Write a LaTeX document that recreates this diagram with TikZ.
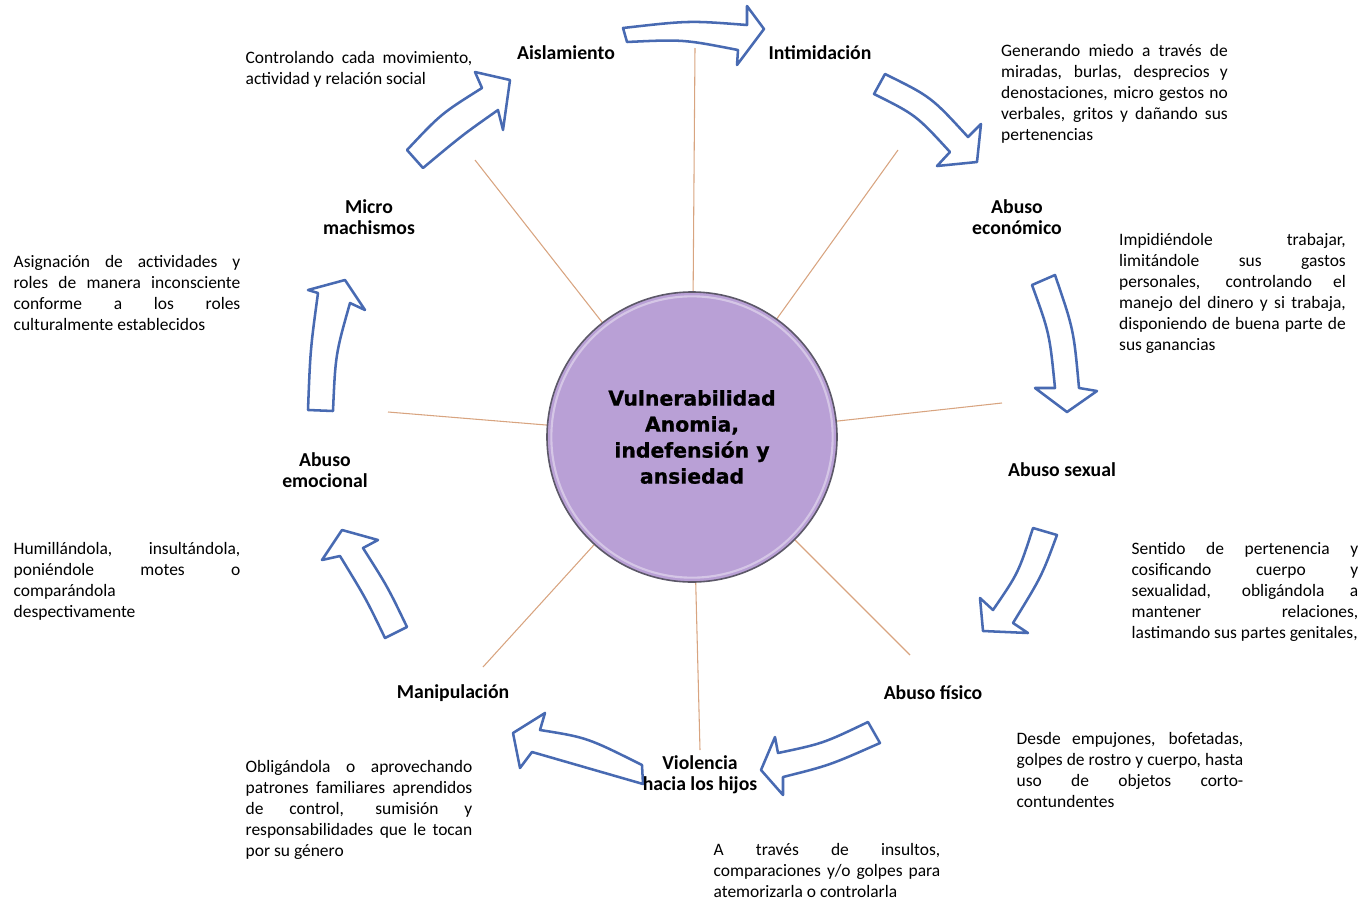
\documentclass[tikz,border=0pt]{standalone}
\usepackage{fontspec}
\setmainfont{Carlito}
\newfontfamily\corefont{DejaVu Sans}[BoldFeatures={FakeBold=0.8}]
\usetikzlibrary{calc}
\definecolor{arrowblue}{RGB}{72,106,178}
\definecolor{spokecol}{RGB}{216,164,128}
\definecolor{corefill}{RGB}{185,160,214}
\definecolor{corerim}{RGB}{92,88,104}
\tikzstyle{stage} = [font={\fontsize{14.8}{15.75}\selectfont\bfseries}, align=center, inner sep=0pt]
\tikzstyle{note} = [font={\fontsize{13.1}{15.75}\selectfont\hyphenpenalty=10000\tolerance=10000}, text width=170pt, align=justify, inner sep=0pt]
\tikzstyle{spoke} = [draw=spokecol, line width=0.8pt]
\tikzstyle{ringarrow} = [draw=arrowblue, fill=white, line width=1.9pt, line join=round]
\tikzstyle{core} = [circle, draw=corerim, line width=1.2pt, fill=corefill, minimum size=217.5pt, inner sep=0pt, align=center, font={\corefont\bfseries\fontsize{15.3}{19.5}\selectfont}]
\tikzstyle{bevel} = [draw=corefill!60!white, line width=1.6pt]
\newcommand{\cyclearrow}[9]{%
  \draw[ringarrow] (#1) .. controls ($(#2)!-1/3!($(#1)!0.5!(#3)$)$) .. (#3) -- (#4) -- (#5) -- (#6)
    -- (#7) .. controls ($(#8)!-1/3!($(#7)!0.5!(#9)$)$) .. (#9) -- cycle;}

\begin{document}
\begin{tikzpicture}[x=0.75pt, y=-0.75pt]
\useasboundingbox (0,0) rectangle (1361,900);

\coordinate (mid) at (692,437);
\coordinate (s1) at (695,48);
\coordinate (s2) at (898,150);
\coordinate (s3) at (1002,403);
\coordinate (s4) at (910,655);
\coordinate (s5) at (700,750);
\coordinate (s6) at (483,667);
\coordinate (s7) at (388,412);
\coordinate (s8) at (475,160);
\foreach \s in {s1,s2,s3,s4,s5,s6,s7,s8}
  \draw[spoke] (mid) -- (\s);

\node[core] (core) at (mid) {};
\draw[bevel] (core.center) circle[radius=105.5pt];
\node[core, fill=none, draw=none] (coretext) at (mid) {Vulnerabilidad\\Anomia,\\indefensión y\\ansiedad};

\cyclearrow{623,28}{688,22}{747,25}{747,6}{764,29}{737,65}{738,50}{683,41}{627,42}
\cyclearrow{885,74}{930,99}{968,137}{981,124}{977,162}{937,166}{950,152}{915,117}{874,94}
\cyclearrow{1055,275}{1072,330}{1079,388}{1097,391}{1067,412}{1035,388}{1055,388}{1048,334}{1032,285}
\cyclearrow{1057,535}{1040,577}{1013,623}{1028,633}{983,631}{980,598}{993,610}{1017,572}{1033,528}
\cyclearrow{880,743}{830,764}{783,777}{783,795}{761,770}{775,737}{778,753}{823,742}{868,722}
\cyclearrow{643,784}{588,768}{532,752}{520,768}{513,733}{545,713}{540,730}{588,740}{642,765}
\cyclearrow{407,627}{387,587}{363,548}{378,540}{342,530}{322,560}{340,556}{365,598}{385,638}
\cyclearrow{333,411}{337,355}{350,303}{365,310}{345,280}{308,290}{318,293}{311,350}{308,410}
\cyclearrow{423,168}{462,136}{498,110}{503,130}{510,80}{475,72}{482,88}{442,115}{407,150}

\node[stage] (aislamiento) at (566,53) {Aislamiento};
\node[stage] (intimidacion) at (820,53) {Intimidación};
\node[stage] (economico) at (1017,217.5) {Abuso\\económico};
\node[stage] (sexual) at (1062,470) {Abuso sexual};
\node[stage] (fisico) at (933,693) {Abuso físico};
\node[stage] (hijos) at (700,774.5) {Violencia\\hacia los hijos};
\node[stage] (manipulacion) at (453,693) {Manipulación};
\node[stage] (emocional) at (325,470.5) {Abuso\\emocional};
\node[stage] (machismos) at (369,217.5) {Micro\\machismos};

\node[note] (aislamientonote) at (359,69.5) {Controlando cada movimiento,\linebreak actividad y relación social};
\node[note] (intimidacionnote) at (1114.5,94) {Generando miedo a través de\linebreak miradas, burlas, desprecios y\linebreak denostaciones, micro gestos no\linebreak verbales, gritos y dañando sus\linebreak pertenencias};
\node[note] (economiconote) at (1232.5,293.5) {Impidiéndole trabajar,\linebreak limitándole sus gastos\linebreak personales, controlando el\linebreak manejo del dinero y si trabaja,\linebreak disponiendo de buena parte de\linebreak sus ganancias};
\node[note] (sexualnote) at (1245,592) {Sentido de pertenencia y\linebreak cosificando cuerpo y\linebreak sexualidad, obligándola a\linebreak mantener relaciones,\linebreak lastimando sus partes genitales,};
\node[note] (fisiconote) at (1130,770) {Desde empujones, bofetadas,\linebreak golpes de rostro y cuerpo, hasta\linebreak uso de objetos corto-\linebreak contundentes};
\node[note] (hijosnote) at (827,870) {A través de insultos,\linebreak comparaciones y/o golpes para\linebreak atemorizarla o controlarla};
\node[note] (manipulacionnote) at (359,809.5) {Obligándola o aprovechando\linebreak patrones familiares aprendidos\linebreak de control, sumisión y\linebreak responsabilidades que le tocan\linebreak por su género};
\node[note] (emocionalnote) at (127,581.5) {Humillándola, insultándola,\linebreak poniéndole motes o\linebreak comparándola\linebreak despectivamente};
\node[note] (machismosnote) at (127,292.5) {Asignación de actividades y\linebreak roles de manera inconsciente\linebreak conforme a los roles\linebreak culturalmente establecidos};

\end{tikzpicture}
\end{document}
